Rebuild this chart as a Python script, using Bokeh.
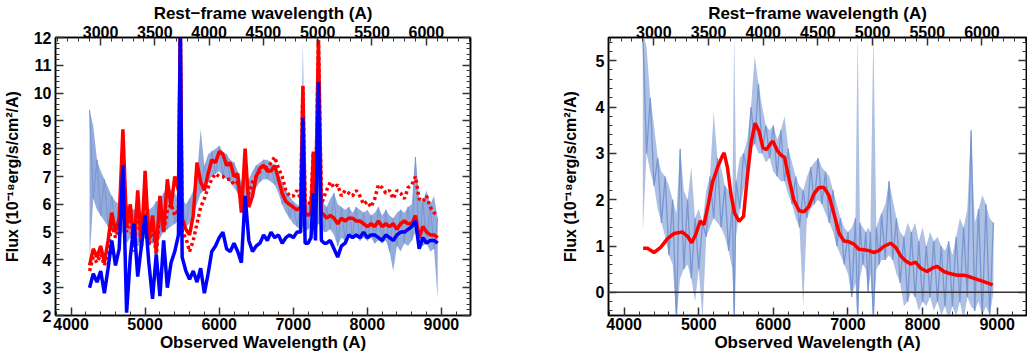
from bokeh.plotting import figure
from bokeh.layouts import row
from bokeh.models import (LinearAxis, Range1d, SingleIntervalTicker,
                          CustomJSTickFormatter, Span, ColumnDataSource)
from bokeh.embed import file_html
from bokeh.resources import INLINE

# ---------------- data ----------------
z_factor = 1.466          # observed / rest-frame wavelength
x_obs_range = (3790, 9393)

wl = [4250,4300,4350,4400,4450,4500,4550,4600,4650,4700,
      4750,4800,4850,4900,4950,5000,5050,5100,5150,5200,
      5250,5300,5350,5400,5450,5475,5500,5550,5600,5650,
      5700,5750,5800,5850,5900,5950,6000,6050,6100,6150,
      6200,6250,6300,6350,6400,6450,6500,6550,6600,6650,
      6700,6750,6800,6850,6900,6950,7000,7050,7100,7130,
      7160,7200,7240,7270,7300,7340,7380,7420,7450,7500,
      7550,7600,7650,7700,7750,7800,7850,7900,7950,8000,
      8050,8100,8150,8200,8250,8300,8350,8400,8450,8500,
      8550,8600,8650,8700,8750,8800,8850,8900,8950]

blue_model = [3.0,3.5,3.2,3.6,2.8,3.7,4.7,3.8,4.4,7.4,
              2.1,4.1,5.3,3.4,4.5,5.6,3.9,2.6,4.2,2.7,
              4.7,3.0,3.9,4.3,4.9,12.5,4.1,3.6,3.3,3.6,
              3.2,3.7,2.8,3.5,4.3,4.5,4.8,5.0,4.4,4.3,
              4.6,4.3,3.9,6.3,4.7,4.3,4.5,4.6,4.9,4.7,
              5.0,4.8,4.9,4.6,4.8,4.9,4.8,5.0,5.0,9.1,
              4.6,4.6,4.8,6.4,4.7,10.4,4.7,4.6,4.6,4.7,
              4.4,4.1,4.5,4.6,4.9,4.8,4.9,4.8,5.0,4.8,
              4.9,4.9,4.8,4.7,4.9,4.8,4.7,4.9,5.0,5.0,
              5.1,5.2,5.4,4.4,4.8,4.6,4.7,4.7,4.6]

red_model = [3.8,4.4,4.1,4.5,3.9,4.7,5.7,5.0,5.5,8.7,
             5.2,6.0,4.5,6.5,4.5,7.2,4.7,5.6,4.3,6.3,
             5.0,6.9,5.9,7.0,6.5,12.5,5.5,5.1,4.9,5.6,
             7.5,6.8,6.5,7.1,7.6,7.5,7.9,7.8,7.4,7.5,
             7.0,7.1,5.7,8.0,5.9,6.3,7.0,7.3,7.4,7.2,
             7.2,7.4,6.9,6.4,6.1,6.0,5.9,5.8,5.9,10.2,
             5.7,5.6,5.7,7.8,5.8,11.9,5.7,5.6,5.5,5.6,
             5.5,5.3,5.5,5.4,5.5,5.5,5.4,5.4,5.3,5.2,
             5.3,5.2,5.4,5.2,5.3,5.2,5.3,5.1,5.3,5.4,
             5.3,5.3,5.6,4.8,5.2,5.0,4.9,4.9,4.8]

red_dotted = [3.6,4.1,3.9,4.2,3.8,4.3,5.3,4.8,5.2,7.9,
              5.0,5.6,4.3,6.0,4.4,6.6,4.5,5.2,4.2,5.8,
              5.0,5.8,6.0,5.6,5.8,12.5,5.0,4.8,4.3,4.7,
              5.3,5.9,6.2,6.6,6.9,7.1,7.0,7.0,6.9,6.9,
              6.7,6.8,6.3,6.0,6.4,6.8,7.0,7.2,7.4,7.3,
              7.5,7.7,7.3,7.0,6.5,6.3,6.3,6.5,6.2,10.3,
              6.1,6.0,6.1,7.9,6.1,11.9,6.0,6.3,6.5,6.8,
              6.6,6.7,6.3,6.5,6.4,6.3,6.5,6.3,6.0,6.1,
              5.9,6.2,6.7,6.6,6.4,6.5,6.2,6.5,6.4,6.2,
              6.6,6.7,7.0,6.2,6.1,6.3,5.9,5.7,5.6]

obs_lo = [4.0,6.2,5.8,5.6,5.4,5.2,5.0,5.0,4.8,5.0,
          4.6,4.8,4.6,4.5,4.6,4.8,4.6,4.6,4.7,4.8,
          5.0,5.1,5.2,5.3,5.4,5.4,5.1,5.2,5.3,5.6,
          6.0,6.4,6.5,6.8,7.0,7.1,7.2,7.0,6.9,6.8,
          6.6,6.4,5.9,5.7,6.1,6.4,6.6,6.8,6.9,6.9,
          6.8,6.7,6.4,6.0,5.7,5.5,5.3,5.2,5.0,5.2,
          5.0,5.1,5.2,5.3,5.0,5.3,5.2,5.0,5.0,5.1,
          4.9,4.5,4.8,4.7,4.9,4.8,4.9,4.7,4.8,4.7,
          4.8,4.6,4.7,4.6,4.7,4.3,3.6,4.5,4.3,4.6,
          4.5,4.7,5.0,4.4,4.5,4.6,4.3,4.4,2.6]

obs_hi = [9.4,8.8,7.6,7.2,6.9,6.6,6.3,6.1,6.0,7.3,
          6.0,5.9,5.8,5.9,5.7,6.3,5.8,5.9,6.1,6.2,
          6.4,6.7,6.5,6.4,6.2,12.5,6.2,6.0,6.2,6.5,
          7.0,8.7,7.4,7.8,7.9,8.0,8.1,7.9,7.8,7.6,
          7.5,7.2,6.8,7.0,6.9,7.2,7.4,7.5,7.6,7.6,
          7.5,7.4,7.1,6.8,6.5,6.3,6.1,6.0,5.9,11.9,
          6.0,6.0,6.4,7.2,6.1,12.5,6.2,6.0,5.9,6.2,
          6.4,6.0,5.9,5.8,5.9,5.7,5.9,5.8,5.7,5.8,
          5.6,5.7,5.9,5.6,5.8,5.6,5.5,5.7,5.8,5.7,
          5.9,6.0,7.7,6.2,6.1,6.5,6.0,6.3,5.5]

res_lo = [1.3,3.0,2.6,2.3,1.8,1.5,1.2,0.8,0.6,-0.6,
          0.3,0.5,0.6,0.3,-0.2,0.5,-0.6,1.2,1.4,1.6,
          1.5,1.4,1.2,0.9,0.5,-0.6,1.2,1.8,2.2,2.6,
          3.1,3.2,3.0,3.0,2.8,2.9,2.6,2.5,2.4,2.4,
          2.1,1.9,1.6,1.4,-0.3,1.6,1.8,1.9,2.0,1.9,
          1.7,1.5,1.3,1.0,0.8,0.6,0.4,-0.1,0.2,-0.6,
          0.3,0.6,0.5,0.0,0.4,-0.6,0.5,0.6,0.7,0.7,
          0.8,0.7,0.4,0.2,-0.3,-0.2,0.0,-0.1,-0.4,-0.2,
          -0.3,-0.1,-0.4,-0.2,-0.5,-0.3,-0.6,-0.3,-0.5,-0.2,
          -0.6,-0.1,-0.3,-0.4,-0.2,-0.5,-0.3,-0.5,0.0]

res_hi = [5.6,5.3,4.2,3.6,2.9,2.6,2.5,2.3,2.0,1.7,
          3.1,2.2,2.0,2.7,1.6,1.8,1.5,2.2,2.5,3.9,
          2.9,2.7,2.3,2.2,1.9,5.6,2.4,2.9,3.0,3.3,
          4.0,5.1,4.5,4.0,3.6,3.5,3.6,3.3,3.5,3.8,
          3.1,2.8,2.5,2.3,2.2,2.5,2.7,2.8,2.9,2.7,
          2.6,2.5,2.2,1.9,1.6,1.4,1.3,1.4,1.6,5.6,
          1.5,1.4,1.3,1.4,1.3,5.6,1.4,1.6,1.7,1.9,
          2.4,2.0,1.6,1.3,1.2,1.5,1.3,1.5,1.1,1.4,
          1.0,1.3,1.1,1.2,1.0,0.9,1.1,0.8,1.2,1.6,
          1.4,1.8,3.5,1.5,1.8,2.1,1.9,1.6,1.5]

fit_wl = [4254,4312,4400,4490,4580,4670,4780,4850,4905,4960,
          5020,5070,5130,5185,5250,5315,5340,5385,5430,5480,
          5540,5600,5650,5705,5755,5810,5860,5910,5965,5995,
          6055,6105,6150,6210,6275,6345,6410,6475,6545,6610,
          6680,6745,6810,6880,6945,7015,7080,7145,7215,7280,
          7350,7415,7480,7570,7640,7705,7770,7840,7905,7975,
          8060,8130,8195,8285,8375,8465,8555,8640,8730,8820,
          8940]
fit_flux = [0.95,0.95,0.86,0.97,1.16,1.27,1.30,1.21,1.07,1.25,
            1.54,1.46,1.92,2.38,2.69,2.94,3.01,2.69,2.13,1.71,
            1.53,1.64,2.48,3.26,3.65,3.47,3.12,3.08,3.22,3.26,
            3.05,2.96,2.91,2.45,1.99,1.76,1.74,1.85,2.13,2.26,
            2.26,2.09,1.71,1.28,1.11,1.09,1.04,0.93,0.92,0.90,
            0.86,0.90,0.99,1.06,0.97,0.79,0.68,0.61,0.65,0.52,
            0.45,0.52,0.56,0.45,0.40,0.37,0.37,0.33,0.28,0.23,
            0.16]

# ---------------- styling ----------------
FONT = "Liberation Sans"
LB = "#7896d2"
BLACK = "black"


def style_axis(ax, interval, label=None, show_labels=True,
               tick_standoff=2, label_standoff=1, label_size="17px"):
    ax.ticker = SingleIntervalTicker(interval=interval, num_minor_ticks=5)
    ax.major_tick_in = 8
    ax.major_tick_out = 0
    ax.minor_tick_in = 4
    ax.minor_tick_out = 0
    ax.major_tick_line_color = "#333333"
    ax.minor_tick_line_color = "#333333"
    ax.major_tick_line_width = 1.5
    ax.minor_tick_line_width = 1
    ax.axis_line_color = BLACK
    ax.axis_line_width = 1.5
    ax.major_label_text_font = FONT
    ax.major_label_text_font_style = "bold"
    ax.major_label_text_font_size = "16px"
    ax.major_label_text_color = BLACK
    ax.major_label_standoff = tick_standoff
    if not show_labels:
        ax.formatter = CustomJSTickFormatter(code="return ''")
        ax.major_label_standoff = 0
    if label:
        ax.axis_label = label
        ax.axis_label_text_font = FONT
        ax.axis_label_text_font_style = "bold"
        ax.axis_label_text_font_size = label_size
        ax.axis_label_text_color = BLACK
        ax.axis_label_standoff = label_standoff


def make_fig(width, ylo, yhi, border_left, border_right, ylabel_standoff):
    p = figure(width=width, height=354,
               x_range=Range1d(*x_obs_range), y_range=Range1d(ylo, yhi),
               output_backend="svg", toolbar_location=None,
               min_border_left=border_left, min_border_right=border_right,
               min_border_top=34, min_border_bottom=37,
               x_axis_label="Observed Wavelength (A)",
               y_axis_label="Flux (10⁻¹⁸erg/s/cm²/A)")
    p.grid.visible = False
    p.outline_line_color = BLACK
    p.outline_line_width = 1.5
    p.background_fill_color = "white"
    p.border_fill_color = "white"
    style_axis(p.xaxis[0], 1000, "Observed Wavelength (A)",
               tick_standoff=2, label_standoff=0)
    style_axis(p.yaxis[0], 1, "Flux (10⁻¹⁸erg/s/cm²/A)",
               tick_standoff=4, label_standoff=ylabel_standoff,
               label_size="16px")
    p.extra_x_ranges = {"rest": Range1d(x_obs_range[0] / z_factor,
                                        x_obs_range[1] / z_factor)}
    top = LinearAxis(x_range_name="rest")
    style_axis(top, 500, "Rest−frame wavelength (A)",
               tick_standoff=0, label_standoff=0)
    p.add_layout(top, "above")
    right = LinearAxis()
    style_axis(right, 1, show_labels=False)
    p.add_layout(right, "right")
    return p


src = ColumnDataSource(dict(
    wl=wl, blue=blue_model, red=red_model, dot=red_dotted,
    lo=obs_lo, hi=obs_hi,
    zig=[obs_hi[i] if i % 2 == 0 else obs_lo[i] for i in range(len(wl))],
    rlo=res_lo, rhi=res_hi,
    rzig=[res_hi[i] if i % 2 == 0 else res_lo[i] for i in range(len(wl))],
))

# ---------------- left panel ----------------
p1 = make_fig(530, 2, 12, 52, 60, 10)
p1.varea(x="wl", y1="lo", y2="hi", source=src, fill_color=LB, fill_alpha=0.8)
p1.line(x="wl", y="zig", source=src, line_color=LB, line_width=1)
p1.line(x="wl", y="red", source=src, line_color="#ff0000", line_width=3.5)
p1.line(x="wl", y="dot", source=src, line_color="#ff0000", line_width=3.5,
        line_dash="3 3")
p1.line(x="wl", y="blue", source=src, line_color="#0000ff", line_width=3.5)

# ---------------- right panel ----------------
p2 = make_fig(497, -0.5, 5.5, 78, 1, 14)
p2.varea(x="wl", y1="rlo", y2="rhi", source=src, fill_color=LB, fill_alpha=0.6)
p2.line(x="wl", y="rzig", source=src, line_color=LB, line_width=1.3)
p2.add_layout(Span(location=0, dimension="width", line_color="#333333",
                   line_width=1.5))
p2.line(x=fit_wl, y=fit_flux, line_color="#ff0000", line_width=3.5)

layout = row(p1, p2)
open("out.html", "w").write(file_html(layout, INLINE))
